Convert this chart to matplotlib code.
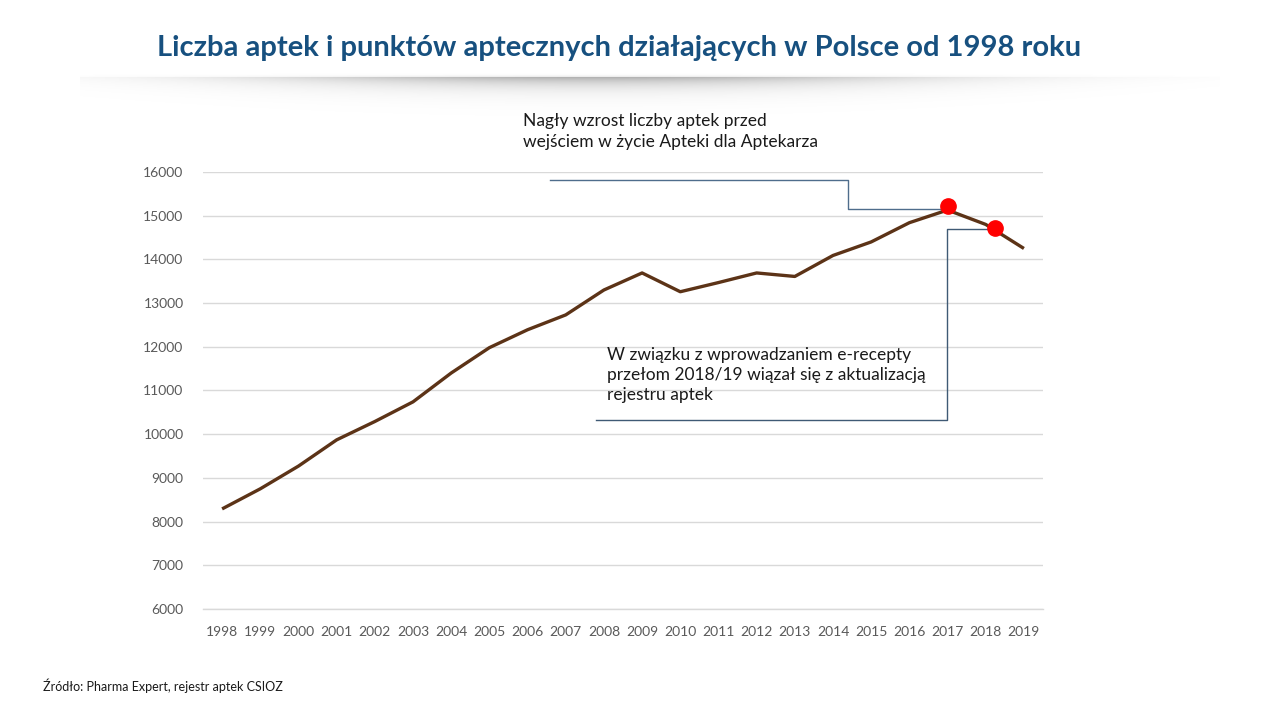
import matplotlib.pyplot as plt
import numpy as np

plt.rcParams["font.family"] = ["Lato", "DejaVu Sans"]

years = list(range(1998, 2020))
pharmacies = [
    8290, 8750, 9270, 9870, 10290, 10740, 11400, 11980, 12390, 12730, 13300,
    13690, 13260, 13470, 13690, 13610, 14090, 14400, 14840, 15130, 14800, 14250,
]

# red highlight markers drawn over the line (slightly offset as in the original)
marker_x = [2017.0, 2018.25]
marker_y = [15220, 14720]

title = "Liczba aptek i punktów aptecznych działających w Polsce od 1998 roku"
note_top = "Nagły wzrost liczby aptek przed\nwejściem w życie Apteki dla Aptekarza"
note_bottom = ("W związku z wprowadzaniem e-recepty\n"
               "przełom 2018/19 wiązał się z aktualizacją\n"
               "rejestru aptek")
source = "Źródło: Pharma Expert, rejestr aptek CSIOZ"

fig = plt.figure(figsize=(12.8, 7.2), dpi=100)
fig.patch.set_facecolor("white")

# soft shadow cast below the title band (pixel rows 70..120)
shadow_ax = fig.add_axes([80 / 1280, 1 - 120 / 720, 1140 / 1280, 50 / 720])
cols = np.linspace(-1, 1, 570)
rows = np.arange(50)
C, R = np.meshgrid(cols, rows)
horiz = np.exp(-((C + 0.1) / 0.6) ** 2)
below = np.clip(R - 7, 0, None)
vert = np.where(R >= 7, np.exp(-below / 9.0), np.exp(-((7 - R) / 2.0) ** 2) * 0.3)
shade = horiz * vert
shadow_ax.imshow(1 - 0.3 * shade, cmap="gray", vmin=0, vmax=1,
                 aspect="auto", origin="upper", interpolation="bilinear")
shadow_ax.axis("off")

fig.text(0.484, 0.933, title, ha="center", va="center",
         fontsize=21, fontweight="bold", color="#17507F")

ax = fig.add_axes([0.1586, 0.1542, 0.65625, 0.6069])
ax.plot(years, pharmacies, color="#5C3317", linewidth=2.4,
        solid_capstyle="butt", zorder=3)

ax.set_xlim(1997.5, 2019.5)
ax.set_ylim(6000, 16000)
ax.set_xticks(years)
ax.set_xticklabels([str(y) for y in years])
ax.set_yticks(range(6000, 16001, 1000))
ax.grid(axis="y", color="#D9D9D9", linewidth=1)
ax.axhline(6000, color="#D9D9D9", linewidth=1, clip_on=False, zorder=0)
ax.set_axisbelow(True)
for side in ["top", "right", "left", "bottom"]:
    ax.spines[side].set_visible(False)
ax.tick_params(axis="both", length=0, colors="#595959", labelsize=10)
ax.tick_params(axis="y", pad=14)
ax.tick_params(axis="x", pad=12)

# connector lines for the notes
ax.plot([2006.6, 2014.4, 2014.4, 2016.9], [15815, 15815, 15160, 15160],
        color="#4F6D8C", linewidth=1, clip_on=False, zorder=2)
ax.plot([2007.8, 2016.98, 2016.98, 2018.1], [10330, 10330, 14700, 14700],
        color="#3F5A75", linewidth=1, clip_on=False, zorder=2)

ax.plot(marker_x, marker_y, linestyle="none", marker="o", markersize=11,
        color="#FF0000", zorder=4)

fig.text(523 / 1280, 1 - 113 / 720, note_top, ha="left", va="top",
         fontsize=12.5, color="#1A1A1A", linespacing=1.35)
fig.text(607 / 1280, 1 - 347 / 720, note_bottom, ha="left", va="top",
         fontsize=12.5, color="#1A1A1A", linespacing=1.3)
fig.text(43 / 1280, 1 - 686 / 720, source, ha="left", va="center",
         fontsize=9, color="#1A1A1A")

fig.savefig("out.png", dpi=100)
